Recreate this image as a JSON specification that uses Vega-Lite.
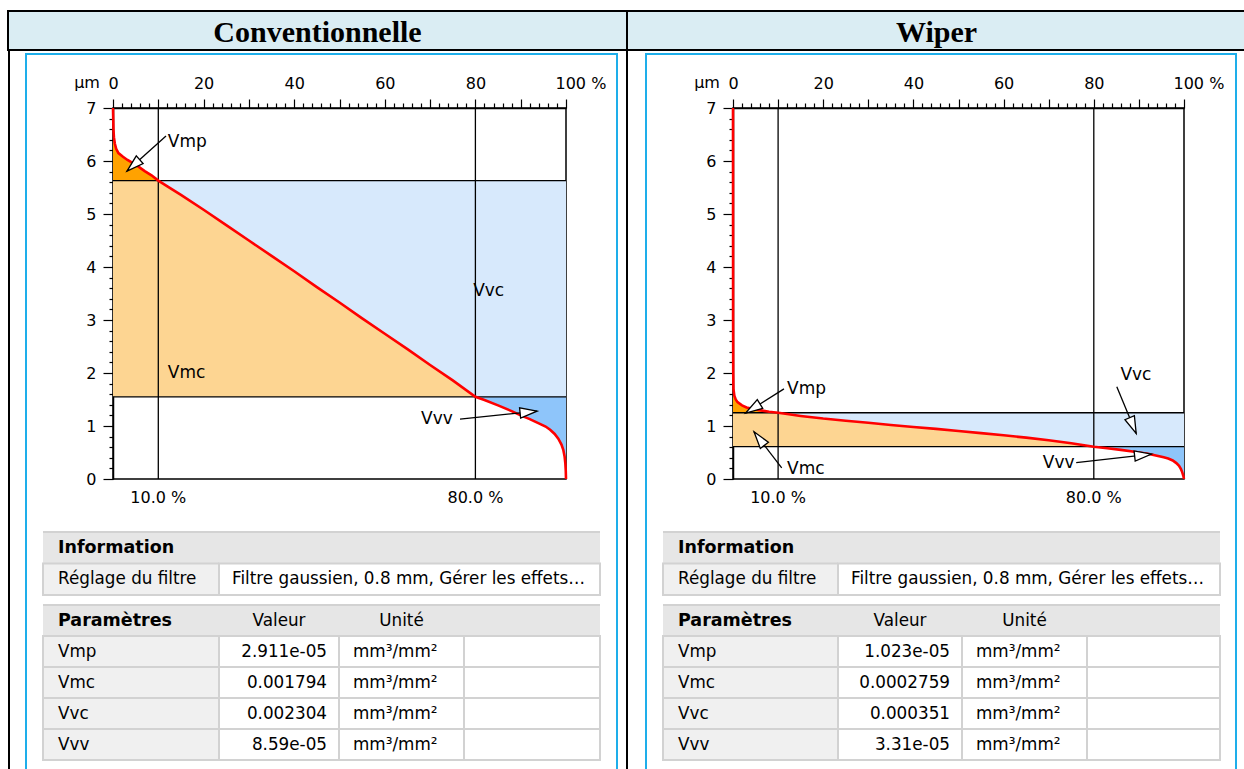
{
"$schema": "https://vega.github.io/schema/vega-lite/v6.json",
"padding": {"left": 7, "top": 10, "right": 0, "bottom": 0},
"background": "white",
"config": {
  "view": {"stroke": null},
  "font": "DejaVu Sans",
  "text": {"font": "DejaVu Sans", "fontSize": 16, "color": "black", "baseline": "middle"},
  "axis": {"labelFont": "DejaVu Sans", "labelFontSize": 16, "labelColor": "black", "domainColor": "black", "tickColor": "black", "grid": false, "labelFlush": false, "labelOverlap": false, "labelBound": false, "domainWidth": 1.5, "tickWidth": 1.2},
  "concat": {"spacing": 0}
},
"datasets": {
  "curve1": [{"x":0,"y":7},{"x":0.05,"y":6.8},{"x":0.1,"y":6.6},{"x":0.2,"y":6.45},{"x":0.4,"y":6.33},{"x":0.7,"y":6.23},{"x":1.2,"y":6.15},{"x":2.2,"y":6.08},{"x":3.2,"y":6.02},{"x":4.4,"y":5.96},{"x":5.7,"y":5.89},{"x":7,"y":5.81},{"x":8.5,"y":5.73},{"x":10,"y":5.63},{"x":12,"y":5.52},{"x":15,"y":5.36},{"x":20,"y":5.08},{"x":25,"y":4.79},{"x":30,"y":4.5},{"x":35,"y":4.21},{"x":40,"y":3.92},{"x":45,"y":3.62},{"x":50,"y":3.33},{"x":55,"y":3.03},{"x":60,"y":2.74},{"x":65,"y":2.45},{"x":70,"y":2.15},{"x":75,"y":1.86},{"x":80,"y":1.55},{"x":82,"y":1.49},{"x":85,"y":1.39},{"x":88,"y":1.28},{"x":90,"y":1.2},{"x":92,"y":1.13},{"x":94,"y":1.05},{"x":95.5,"y":0.99},{"x":96.5,"y":0.93},{"x":97.5,"y":0.85},{"x":98.3,"y":0.76},{"x":99,"y":0.65},{"x":99.4,"y":0.55},{"x":99.7,"y":0.42},{"x":99.85,"y":0.3},{"x":99.95,"y":0.15},{"x":100,"y":0}],
  "curve2": [{"x":0,"y":7},{"x":0.02,"y":3},{"x":0.05,"y":2},{"x":0.1,"y":1.7},{"x":0.3,"y":1.57},{"x":0.6,"y":1.5},{"x":1,"y":1.45},{"x":2,"y":1.39},{"x":3,"y":1.35},{"x":4.5,"y":1.32},{"x":6.5,"y":1.29},{"x":8,"y":1.27},{"x":10,"y":1.25},{"x":12,"y":1.225},{"x":15,"y":1.19},{"x":20,"y":1.14},{"x":25,"y":1.1},{"x":30,"y":1.06},{"x":35,"y":1.02},{"x":40,"y":0.98},{"x":45,"y":0.945},{"x":50,"y":0.905},{"x":55,"y":0.865},{"x":60,"y":0.825},{"x":65,"y":0.78},{"x":70,"y":0.73},{"x":75,"y":0.675},{"x":80,"y":0.61},{"x":83,"y":0.58},{"x":86,"y":0.55},{"x":89,"y":0.515},{"x":92,"y":0.475},{"x":94,"y":0.44},{"x":95.5,"y":0.41},{"x":96.5,"y":0.385},{"x":97.5,"y":0.35},{"x":98.3,"y":0.3},{"x":98.9,"y":0.25},{"x":99.3,"y":0.19},{"x":99.6,"y":0.13},{"x":99.85,"y":0.06},{"x":100,"y":0}],
  "zones1": [{"zone":"Vmc","x0":0,"x1":10,"y0":1.55,"y1":5.63},{"zone":"Vvc","x0":80,"x1":100,"y0":1.55,"y1":5.63}],
  "zones2": [{"zone":"Vmc","x0":0,"x1":10,"y0":0.61,"y1":1.25},{"zone":"Vvc","x0":80,"x1":100,"y0":0.61,"y1":1.25}],
  "lev1": [{"h":5.63},{"h":1.55}],
  "lev2": [{"h":1.25},{"h":0.61}],
  "pct": [{"v":10,"label":"10.0 %"},{"v":80,"label":"80.0 %"}],
  "unit": [{"u":"µm"}],
  "labels1": [{"t":"Vmp","x":12.1,"y":6.35},{"t":"Vmc","x":12.1,"y":2.0},{"t":"Vvc","x":79.5,"y":3.55},{"t":"Vvv","x":68.0,"y":1.13}],
  "labels2": [{"t":"Vmp","x":12.0,"y":1.7},{"t":"Vmc","x":12.0,"y":0.19},{"t":"Vvc","x":85.9,"y":1.96},{"t":"Vvv","x":68.7,"y":0.31}],
  "arrows1": [{"x":11.7,"y":6.47,"x2":3.1,"y2":5.81},{"x":76.6,"y":1.13,"x2":93.6,"y2":1.28}],
  "arrows2": [{"x":11.3,"y":1.7,"x2":2.8,"y2":1.245},{"x":10.8,"y":0.21,"x2":4.66,"y2":0.89},{"x":85.1,"y":1.74,"x2":89.4,"y2":0.86},{"x":76.1,"y":0.31,"x2":92.8,"y2":0.47}],
  "t1": [{"row":"Information","c1":"Information","c2":"","head":true},{"row":"Réglage","c1":"Réglage du filtre","c2":"Filtre gaussien, 0.8 mm, Gérer les effets…","head":false}],
  "t2L": [{"row":"Paramètres","c1":"Paramètres","c2":"Valeur","c3":"Unité","head":true},{"row":"Vmp","c1":"Vmp","c2":"2.911e-05","c3":"mm³/mm²","head":false},{"row":"Vmc","c1":"Vmc","c2":"0.001794","c3":"mm³/mm²","head":false},{"row":"Vvc","c1":"Vvc","c2":"0.002304","c3":"mm³/mm²","head":false},{"row":"Vvv","c1":"Vvv","c2":"8.59e-05","c3":"mm³/mm²","head":false}],
  "t2R": [{"row":"Paramètres","c1":"Paramètres","c2":"Valeur","c3":"Unité","head":true},{"row":"Vmp","c1":"Vmp","c2":"1.023e-05","c3":"mm³/mm²","head":false},{"row":"Vmc","c1":"Vmc","c2":"0.0002759","c3":"mm³/mm²","head":false},{"row":"Vvc","c1":"Vvc","c2":"0.000351","c3":"mm³/mm²","head":false},{"row":"Vvv","c1":"Vvv","c2":"3.31e-05","c3":"mm³/mm²","head":false}],
  "none": []
},
"spacing": 0,
"vconcat": [
 {"hconcat": [
   {"width": 619, "height": 39, "view": {"fill": "#daedf3", "stroke": "black", "strokeWidth": 2}, "data": {"values": [{"t": "Conventionnelle"}]}, "mark": {"type": "text", "font": "Liberation Serif", "fontSize": 30, "fontWeight": "bold", "align": "center", "baseline": "middle", "dy": 2}, "encoding": {"text": {"field": "t"}}},
   {"width": 619, "height": 39, "view": {"fill": "#daedf3", "stroke": "black", "strokeWidth": 2}, "data": {"values": [{"t": "Wiper"}]}, "mark": {"type": "text", "font": "Liberation Serif", "fontSize": 30, "fontWeight": "bold", "align": "center", "baseline": "middle", "dy": 2}, "encoding": {"text": {"field": "t"}}}
 ], "spacing": 0, "bounds": "flush"},
 {"hconcat": [
   {"width": 2, "height": 720, "view": {"fill": "black", "stroke": null}, "data": {"name": "none"}, "mark": {"type": "point", "size": 0, "opacity": 0}},
   {"width": 15, "height": 1, "data": {"name": "none"}, "mark": {"type": "point", "size": 0, "opacity": 0}},
   {"vconcat": [
     {"width": 593, "height": 2, "data": {"name": "none"}, "mark": {"type": "point", "size": 0, "opacity": 0}},
     {"width": 593, "height": 2, "view": {"fill": "#1eaeea", "stroke": null}, "data": {"name": "none"}, "mark": {"type": "point", "size": 0, "opacity": 0}},
     {"hconcat": [
       {"width": 2, "height": 716, "view": {"fill": "#1eaeea", "stroke": null}, "data": {"name": "none"}, "mark": {"type": "point", "size": 0, "opacity": 0}},
       {"vconcat": [
         {"width": 589, "height": 19, "data": {"name": "none"}, "mark": {"type": "point", "size": 0, "opacity": 0}},
         {"hconcat": [
           {"width": 86, "height": 1, "data": {"name": "none"}, "mark": {"type": "point", "size": 0, "opacity": 0}},
           {"width": 453, "height": 371, "view": {"stroke": "black", "strokeWidth": 1.5},
            "layer": [
             {"data": {"name": "zones1"}, "mark": {"type": "rect"},
              "encoding": {
               "x": {"field": "x0", "type": "quantitative", "scale": {"domain": [0, 100], "nice": false}, "axis": {"orient": "top", "title": null, "tickCount": 200, "values": [0,2,4,6,8,10,12,14,16,18,20,22,24,26,28,30,32,34,36,38,40,42,44,46,48,50,52,54,56,58,60,62,64,66,68,70,72,74,76,78,80,82,84,86,88,90,92,94,96,98,100], "labelExpr": "datum.value % 20 === 0 ? (datum.value === 100 ? '100 %' : '' + datum.value) : ''", "tickSize": {"condition": {"test": "datum.value % 10 === 0", "value": 9}, "value": 5}, "labelAlign": {"condition": {"test": "datum.value === 100", "value": "left"}, "value": "center"}, "labelOffset": {"condition": {"test": "datum.value === 100", "value": -11}, "value": 0}, "labelPadding": 8, "labelOverlap": false, "labelFlush": false, "labelBound": false}},
               "x2": {"field": "x1"},
               "y": {"field": "y0", "type": "quantitative", "scale": {"domain": [0, 7], "nice": false}, "axis": {"orient": "left", "title": null, "tickCount": 200, "values": [0,0.2,0.4,0.6,0.8,1,1.2,1.4,1.6,1.8,2,2.2,2.4,2.6,2.8,3,3.2,3.4,3.6,3.8,4,4.2,4.4,4.6,4.8,5,5.2,5.4,5.6,5.8,6,6.2,6.4,6.6,6.8,7], "labelExpr": "datum.value % 1 === 0 ? '' + datum.value : ''", "tickSize": {"condition": {"test": "datum.value % 1 === 0", "value": 10}, "value": 4}, "labelPadding": 7, "labelOverlap": false, "labelFlush": false, "labelBound": false}},
               "y2": {"field": "y1"},
               "color": {"field": "zone", "type": "nominal", "scale": {"domain": ["Vmc", "Vvc"], "range": ["#fdd592", "#d7e9fc"]}, "legend": null}}},
             {"data": {"name": "curve1"}, "transform": [{"filter": "datum.x <= 10"}], "mark": {"type": "area", "color": "#ffa200"}, "encoding": {"x": {"field": "x", "type": "quantitative", "title": null}, "y": {"field": "y", "type": "quantitative", "title": null}, "y2": {"datum": 5.63}}},
             {"data": {"name": "curve1"}, "transform": [{"filter": "datum.x >= 10 && datum.x <= 80"}], "mark": {"type": "area", "color": "#fdd592"}, "encoding": {"x": {"field": "x", "type": "quantitative", "title": null}, "y": {"field": "y", "type": "quantitative", "title": null}, "y2": {"datum": 1.55}}},
             {"data": {"name": "curve1"}, "transform": [{"filter": "datum.x >= 10 && datum.x <= 80"}], "mark": {"type": "area", "color": "#d7e9fc"}, "encoding": {"x": {"field": "x", "type": "quantitative", "title": null}, "y": {"field": "y", "type": "quantitative", "title": null}, "y2": {"datum": 5.63}}},
             {"data": {"name": "curve1"}, "transform": [{"filter": "datum.x >= 80"}], "mark": {"type": "area", "color": "#8ec5fa"}, "encoding": {"x": {"field": "x", "type": "quantitative", "title": null}, "y": {"field": "y", "type": "quantitative", "title": null}, "y2": {"datum": 1.55}}},
             {"data": {"name": "lev1"}, "mark": {"type": "rule", "color": "black", "strokeWidth": 1.3}, "encoding": {"y": {"field": "h", "type": "quantitative", "title": null}}},
             {"data": {"name": "pct"}, "mark": {"type": "rule", "color": "black", "strokeWidth": 1.3}, "encoding": {"x": {"field": "v", "type": "quantitative", "title": null}}},
             {"data": {"name": "curve1"}, "mark": {"type": "line", "color": "#ff0000", "strokeWidth": 2.6}, "encoding": {"x": {"field": "x", "type": "quantitative", "title": null}, "y": {"field": "y", "type": "quantitative", "title": null}, "order": {"value": null}}},
             {"data": {"name": "arrows1"}, "mark": {"type": "rule", "color": "black", "strokeWidth": 1.3}, "encoding": {"x": {"field": "x", "type": "quantitative", "title": null}, "y": {"field": "y", "type": "quantitative", "title": null}, "x2": {"field": "x2"}, "y2": {"field": "y2"}}},
             {"data": {"name": "arrows1"}, "transform": [{"calculate": "atan2((datum.x2 - datum.x) * 4.53, (datum.y2 - datum.y) * 53) * 180 / PI", "as": "angle"}], "mark": {"type": "point", "shape": "M0,0L-0.3,1L0.3,1Z", "size": 1156, "filled": true, "fill": "white", "stroke": "black", "strokeWidth": 1.3, "opacity": 1}, "encoding": {"x": {"field": "x2", "type": "quantitative", "title": null}, "y": {"field": "y2", "type": "quantitative", "title": null}, "angle": {"field": "angle", "type": "quantitative", "scale": null}}},
             {"data": {"name": "labels1"}, "mark": {"type": "text", "align": "left", "baseline": "middle", "fontSize": 17}, "encoding": {"x": {"field": "x", "type": "quantitative", "title": null}, "y": {"field": "y", "type": "quantitative", "title": null}, "text": {"field": "t"}}},
             {"data": {"name": "pct"}, "mark": {"type": "text", "baseline": "middle", "dy": 19, "fontSize": 16}, "encoding": {"x": {"field": "v", "type": "quantitative", "title": null}, "y": {"datum": 0}, "text": {"field": "label"}}},
             {"data": {"name": "unit"}, "mark": {"type": "text", "align": "center", "baseline": "middle", "dx": -26, "dy": -25, "fontSize": 16}, "encoding": {"x": {"datum": 0}, "y": {"datum": 7}, "text": {"field": "u"}}}
            ]}
         ], "spacing": 0, "bounds": "flush"},
         {"width": 589, "height": 24, "data": {"name": "none"}, "mark": {"type": "point", "size": 0, "opacity": 0}},
         {"hconcat": [
           {"width": 16, "height": 1, "data": {"name": "none"}, "mark": {"type": "point", "size": 0, "opacity": 0}},
           {"width": 176, "height": 63, "data": {"name": "t1"}, "encoding": {"y": {"field": "row", "type": "nominal", "scale": {"domain": ["Information", "Réglage"], "paddingInner": 0, "paddingOuter": 0}, "axis": null}},
            "layer": [
             {"mark": {"type": "rect", "strokeWidth": 2}, "encoding": {"fill": {"condition": {"test": "datum.head", "value": "#e6e6e6"}, "value": "#f0f0f0"}, "stroke": {"condition": {"test": "datum.head", "value": "transparent"}, "value": "#d2d2d2"}}},
             {"transform": [{"filter": "datum.head"}], "mark": {"type": "rule", "color": "#d2d2d2", "strokeWidth": 2}, "encoding": {"y": {"field": "row", "type": "nominal", "bandPosition": 0}}},
             {"transform": [{"filter": "datum.head"}], "mark": {"type": "text", "align": "left", "dx": 15, "fontSize": 17.5, "fontWeight": "bold"}, "encoding": {"x": {"datum": 0, "scale": {"domain": [0, 1]}, "axis": null}, "text": {"field": "c1"}}},
             {"transform": [{"filter": "!datum.head"}], "mark": {"type": "text", "align": "left", "dx": 15, "fontSize": 16.8}, "encoding": {"x": {"datum": 0, "scale": {"domain": [0, 1]}, "axis": null}, "text": {"field": "c1"}}}
            ]},
           {"width": 381, "height": 63, "data": {"name": "t1"}, "encoding": {"y": {"field": "row", "type": "nominal", "scale": {"domain": ["Information", "Réglage"], "paddingInner": 0, "paddingOuter": 0}, "axis": null}},
            "layer": [
             {"mark": {"type": "rect", "strokeWidth": 2}, "encoding": {"fill": {"condition": {"test": "datum.head", "value": "#e6e6e6"}, "value": "white"}, "stroke": {"condition": {"test": "datum.head", "value": "transparent"}, "value": "#d2d2d2"}}},
             {"transform": [{"filter": "datum.head"}], "mark": {"type": "rule", "color": "#d2d2d2", "strokeWidth": 2}, "encoding": {"y": {"field": "row", "type": "nominal", "bandPosition": 0}}},
             {"transform": [{"filter": "!datum.head"}], "mark": {"type": "text", "align": "left", "dx": 13, "fontSize": 16.8}, "encoding": {"x": {"datum": 0, "scale": {"domain": [0, 1]}, "axis": null}, "text": {"field": "c2"}}}
            ]}
         ], "spacing": 0, "bounds": "flush"},
         {"width": 589, "height": 8, "data": {"name": "none"}, "mark": {"type": "point", "size": 0, "opacity": 0}},
         {"hconcat": [
           {"width": 16, "height": 1, "data": {"name": "none"}, "mark": {"type": "point", "size": 0, "opacity": 0}},
           {"width": 176, "height": 155, "data": {"name": "t2L"}, "encoding": {"y": {"field": "row", "type": "nominal", "scale": {"domain": ["Paramètres", "Vmp", "Vmc", "Vvc", "Vvv"], "paddingInner": 0, "paddingOuter": 0}, "axis": null}},
            "layer": [
             {"mark": {"type": "rect", "strokeWidth": 2}, "encoding": {"fill": {"condition": {"test": "datum.head", "value": "#e6e6e6"}, "value": "#f0f0f0"}, "stroke": {"condition": {"test": "datum.head", "value": "transparent"}, "value": "#d2d2d2"}}},
             {"transform": [{"filter": "datum.head"}], "mark": {"type": "rule", "color": "#d2d2d2", "strokeWidth": 2}, "encoding": {"y": {"field": "row", "type": "nominal", "bandPosition": 0}}},
             {"transform": [{"filter": "datum.head"}], "mark": {"type": "text", "align": "left", "dx": 15, "fontSize": 17.5, "fontWeight": "bold"}, "encoding": {"x": {"datum": 0, "scale": {"domain": [0, 1]}, "axis": null}, "text": {"field": "c1"}}},
             {"transform": [{"filter": "!datum.head"}], "mark": {"type": "text", "align": "left", "dx": 15, "fontSize": 16.8}, "encoding": {"x": {"datum": 0, "scale": {"domain": [0, 1]}, "axis": null}, "text": {"field": "c1"}}}
            ]},
           {"width": 120, "height": 155, "data": {"name": "t2L"}, "encoding": {"y": {"field": "row", "type": "nominal", "scale": {"domain": ["Paramètres", "Vmp", "Vmc", "Vvc", "Vvv"], "paddingInner": 0, "paddingOuter": 0}, "axis": null}},
            "layer": [
             {"mark": {"type": "rect", "strokeWidth": 2}, "encoding": {"fill": {"condition": {"test": "datum.head", "value": "#e6e6e6"}, "value": "white"}, "stroke": {"condition": {"test": "datum.head", "value": "transparent"}, "value": "#d2d2d2"}}},
             {"transform": [{"filter": "datum.head"}], "mark": {"type": "rule", "color": "#d2d2d2", "strokeWidth": 2}, "encoding": {"y": {"field": "row", "type": "nominal", "bandPosition": 0}}},
             {"transform": [{"filter": "datum.head"}], "mark": {"type": "text", "align": "center", "fontSize": 16.8}, "encoding": {"x": {"datum": 0.5, "scale": {"domain": [0, 1]}, "axis": null}, "text": {"field": "c2"}}},
             {"transform": [{"filter": "!datum.head"}], "mark": {"type": "text", "align": "right", "dx": -12, "fontSize": 16.8}, "encoding": {"x": {"datum": 1, "scale": {"domain": [0, 1]}, "axis": null}, "text": {"field": "c2"}}}
            ]},
           {"width": 125, "height": 155, "data": {"name": "t2L"}, "encoding": {"y": {"field": "row", "type": "nominal", "scale": {"domain": ["Paramètres", "Vmp", "Vmc", "Vvc", "Vvv"], "paddingInner": 0, "paddingOuter": 0}, "axis": null}},
            "layer": [
             {"mark": {"type": "rect", "strokeWidth": 2}, "encoding": {"fill": {"condition": {"test": "datum.head", "value": "#e6e6e6"}, "value": "white"}, "stroke": {"condition": {"test": "datum.head", "value": "transparent"}, "value": "#d2d2d2"}}},
             {"transform": [{"filter": "datum.head"}], "mark": {"type": "rule", "color": "#d2d2d2", "strokeWidth": 2}, "encoding": {"y": {"field": "row", "type": "nominal", "bandPosition": 0}}},
             {"transform": [{"filter": "datum.head"}], "mark": {"type": "text", "align": "center", "fontSize": 16.8}, "encoding": {"x": {"datum": 0.5, "scale": {"domain": [0, 1]}, "axis": null}, "text": {"field": "c3"}}},
             {"transform": [{"filter": "!datum.head"}], "mark": {"type": "text", "align": "left", "dx": 14, "fontSize": 16.8}, "encoding": {"x": {"datum": 0, "scale": {"domain": [0, 1]}, "axis": null}, "text": {"field": "c3"}}}
            ]},
           {"width": 136, "height": 155, "data": {"name": "t2L"}, "encoding": {"y": {"field": "row", "type": "nominal", "scale": {"domain": ["Paramètres", "Vmp", "Vmc", "Vvc", "Vvv"], "paddingInner": 0, "paddingOuter": 0}, "axis": null}},
            "layer": [
             {"mark": {"type": "rect", "strokeWidth": 2}, "encoding": {"fill": {"condition": {"test": "datum.head", "value": "#e6e6e6"}, "value": "white"}, "stroke": {"condition": {"test": "datum.head", "value": "transparent"}, "value": "#d2d2d2"}}},
             {"transform": [{"filter": "datum.head"}], "mark": {"type": "rule", "color": "#d2d2d2", "strokeWidth": 2}, "encoding": {"y": {"field": "row", "type": "nominal", "bandPosition": 0}}}
            ]}
         ], "spacing": 0, "bounds": "flush"},
         {"width": 589, "height": 12, "data": {"name": "none"}, "mark": {"type": "point", "size": 0, "opacity": 0}}
       ], "spacing": 0},
       {"width": 2, "height": 716, "view": {"fill": "#1eaeea", "stroke": null}, "data": {"name": "none"}, "mark": {"type": "point", "size": 0, "opacity": 0}}
     ], "spacing": 0}
   ], "spacing": 0},
   {"width": 8, "height": 1, "data": {"name": "none"}, "mark": {"type": "point", "size": 0, "opacity": 0}},
   {"width": 2, "height": 720, "view": {"fill": "black", "stroke": null}, "data": {"name": "none"}, "mark": {"type": "point", "size": 0, "opacity": 0}},
   {"width": 17, "height": 1, "data": {"name": "none"}, "mark": {"type": "point", "size": 0, "opacity": 0}},
   {"vconcat": [
     {"width": 592, "height": 2, "data": {"name": "none"}, "mark": {"type": "point", "size": 0, "opacity": 0}},
     {"width": 592, "height": 2, "view": {"fill": "#1eaeea", "stroke": null}, "data": {"name": "none"}, "mark": {"type": "point", "size": 0, "opacity": 0}},
     {"hconcat": [
       {"width": 2, "height": 716, "view": {"fill": "#1eaeea", "stroke": null}, "data": {"name": "none"}, "mark": {"type": "point", "size": 0, "opacity": 0}},
       {"vconcat": [
         {"width": 588, "height": 19, "data": {"name": "none"}, "mark": {"type": "point", "size": 0, "opacity": 0}},
         {"hconcat": [
           {"width": 86, "height": 1, "data": {"name": "none"}, "mark": {"type": "point", "size": 0, "opacity": 0}},
           {"width": 451, "height": 371, "view": {"stroke": "black", "strokeWidth": 1.5},
            "layer": [
             {"data": {"name": "zones2"}, "mark": {"type": "rect"},
              "encoding": {
               "x": {"field": "x0", "type": "quantitative", "scale": {"domain": [0, 100], "nice": false}, "axis": {"orient": "top", "title": null, "tickCount": 200, "values": [0,2,4,6,8,10,12,14,16,18,20,22,24,26,28,30,32,34,36,38,40,42,44,46,48,50,52,54,56,58,60,62,64,66,68,70,72,74,76,78,80,82,84,86,88,90,92,94,96,98,100], "labelExpr": "datum.value % 20 === 0 ? (datum.value === 100 ? '100 %' : '' + datum.value) : ''", "tickSize": {"condition": {"test": "datum.value % 10 === 0", "value": 9}, "value": 5}, "labelAlign": {"condition": {"test": "datum.value === 100", "value": "left"}, "value": "center"}, "labelOffset": {"condition": {"test": "datum.value === 100", "value": -11}, "value": 0}, "labelPadding": 8, "labelOverlap": false, "labelFlush": false, "labelBound": false}},
               "x2": {"field": "x1"},
               "y": {"field": "y0", "type": "quantitative", "scale": {"domain": [0, 7], "nice": false}, "axis": {"orient": "left", "title": null, "tickCount": 200, "values": [0,0.2,0.4,0.6,0.8,1,1.2,1.4,1.6,1.8,2,2.2,2.4,2.6,2.8,3,3.2,3.4,3.6,3.8,4,4.2,4.4,4.6,4.8,5,5.2,5.4,5.6,5.8,6,6.2,6.4,6.6,6.8,7], "labelExpr": "datum.value % 1 === 0 ? '' + datum.value : ''", "tickSize": {"condition": {"test": "datum.value % 1 === 0", "value": 10}, "value": 4}, "labelPadding": 7, "labelOverlap": false, "labelFlush": false, "labelBound": false}},
               "y2": {"field": "y1"},
               "color": {"field": "zone", "type": "nominal", "scale": {"domain": ["Vmc", "Vvc"], "range": ["#fdd592", "#d7e9fc"]}, "legend": null}}},
             {"data": {"name": "curve2"}, "transform": [{"filter": "datum.x <= 10"}], "mark": {"type": "area", "color": "#ffa200"}, "encoding": {"x": {"field": "x", "type": "quantitative", "title": null}, "y": {"field": "y", "type": "quantitative", "title": null}, "y2": {"datum": 1.25}}},
             {"data": {"name": "curve2"}, "transform": [{"filter": "datum.x >= 10 && datum.x <= 80"}], "mark": {"type": "area", "color": "#fdd592"}, "encoding": {"x": {"field": "x", "type": "quantitative", "title": null}, "y": {"field": "y", "type": "quantitative", "title": null}, "y2": {"datum": 0.61}}},
             {"data": {"name": "curve2"}, "transform": [{"filter": "datum.x >= 10 && datum.x <= 80"}], "mark": {"type": "area", "color": "#d7e9fc"}, "encoding": {"x": {"field": "x", "type": "quantitative", "title": null}, "y": {"field": "y", "type": "quantitative", "title": null}, "y2": {"datum": 1.25}}},
             {"data": {"name": "curve2"}, "transform": [{"filter": "datum.x >= 80"}], "mark": {"type": "area", "color": "#8ec5fa"}, "encoding": {"x": {"field": "x", "type": "quantitative", "title": null}, "y": {"field": "y", "type": "quantitative", "title": null}, "y2": {"datum": 0.61}}},
             {"data": {"name": "lev2"}, "mark": {"type": "rule", "color": "black", "strokeWidth": 1.3}, "encoding": {"y": {"field": "h", "type": "quantitative", "title": null}}},
             {"data": {"name": "pct"}, "mark": {"type": "rule", "color": "black", "strokeWidth": 1.3}, "encoding": {"x": {"field": "v", "type": "quantitative", "title": null}}},
             {"data": {"name": "curve2"}, "mark": {"type": "line", "color": "#ff0000", "strokeWidth": 2.6}, "encoding": {"x": {"field": "x", "type": "quantitative", "title": null}, "y": {"field": "y", "type": "quantitative", "title": null}, "order": {"value": null}}},
             {"data": {"name": "arrows2"}, "mark": {"type": "rule", "color": "black", "strokeWidth": 1.3}, "encoding": {"x": {"field": "x", "type": "quantitative", "title": null}, "y": {"field": "y", "type": "quantitative", "title": null}, "x2": {"field": "x2"}, "y2": {"field": "y2"}}},
             {"data": {"name": "arrows2"}, "transform": [{"calculate": "atan2((datum.x2 - datum.x) * 4.51, (datum.y2 - datum.y) * 53) * 180 / PI", "as": "angle"}], "mark": {"type": "point", "shape": "M0,0L-0.3,1L0.3,1Z", "size": 1156, "filled": true, "fill": "white", "stroke": "black", "strokeWidth": 1.3, "opacity": 1}, "encoding": {"x": {"field": "x2", "type": "quantitative", "title": null}, "y": {"field": "y2", "type": "quantitative", "title": null}, "angle": {"field": "angle", "type": "quantitative", "scale": null}}},
             {"data": {"name": "labels2"}, "mark": {"type": "text", "align": "left", "baseline": "middle", "fontSize": 17}, "encoding": {"x": {"field": "x", "type": "quantitative", "title": null}, "y": {"field": "y", "type": "quantitative", "title": null}, "text": {"field": "t"}}},
             {"data": {"name": "pct"}, "mark": {"type": "text", "baseline": "middle", "dy": 19, "fontSize": 16}, "encoding": {"x": {"field": "v", "type": "quantitative", "title": null}, "y": {"datum": 0}, "text": {"field": "label"}}},
             {"data": {"name": "unit"}, "mark": {"type": "text", "align": "center", "baseline": "middle", "dx": -26, "dy": -25, "fontSize": 16}, "encoding": {"x": {"datum": 0}, "y": {"datum": 7}, "text": {"field": "u"}}}
            ]}
         ], "spacing": 0, "bounds": "flush"},
         {"width": 588, "height": 24, "data": {"name": "none"}, "mark": {"type": "point", "size": 0, "opacity": 0}},
         {"hconcat": [
           {"width": 16, "height": 1, "data": {"name": "none"}, "mark": {"type": "point", "size": 0, "opacity": 0}},
           {"width": 175, "height": 63, "data": {"name": "t1"}, "encoding": {"y": {"field": "row", "type": "nominal", "scale": {"domain": ["Information", "Réglage"], "paddingInner": 0, "paddingOuter": 0}, "axis": null}},
            "layer": [
             {"mark": {"type": "rect", "strokeWidth": 2}, "encoding": {"fill": {"condition": {"test": "datum.head", "value": "#e6e6e6"}, "value": "#f0f0f0"}, "stroke": {"condition": {"test": "datum.head", "value": "transparent"}, "value": "#d2d2d2"}}},
             {"transform": [{"filter": "datum.head"}], "mark": {"type": "rule", "color": "#d2d2d2", "strokeWidth": 2}, "encoding": {"y": {"field": "row", "type": "nominal", "bandPosition": 0}}},
             {"transform": [{"filter": "datum.head"}], "mark": {"type": "text", "align": "left", "dx": 15, "fontSize": 17.5, "fontWeight": "bold"}, "encoding": {"x": {"datum": 0, "scale": {"domain": [0, 1]}, "axis": null}, "text": {"field": "c1"}}},
             {"transform": [{"filter": "!datum.head"}], "mark": {"type": "text", "align": "left", "dx": 15, "fontSize": 16.8}, "encoding": {"x": {"datum": 0, "scale": {"domain": [0, 1]}, "axis": null}, "text": {"field": "c1"}}}
            ]},
           {"width": 382, "height": 63, "data": {"name": "t1"}, "encoding": {"y": {"field": "row", "type": "nominal", "scale": {"domain": ["Information", "Réglage"], "paddingInner": 0, "paddingOuter": 0}, "axis": null}},
            "layer": [
             {"mark": {"type": "rect", "strokeWidth": 2}, "encoding": {"fill": {"condition": {"test": "datum.head", "value": "#e6e6e6"}, "value": "white"}, "stroke": {"condition": {"test": "datum.head", "value": "transparent"}, "value": "#d2d2d2"}}},
             {"transform": [{"filter": "datum.head"}], "mark": {"type": "rule", "color": "#d2d2d2", "strokeWidth": 2}, "encoding": {"y": {"field": "row", "type": "nominal", "bandPosition": 0}}},
             {"transform": [{"filter": "!datum.head"}], "mark": {"type": "text", "align": "left", "dx": 13, "fontSize": 16.8}, "encoding": {"x": {"datum": 0, "scale": {"domain": [0, 1]}, "axis": null}, "text": {"field": "c2"}}}
            ]}
         ], "spacing": 0, "bounds": "flush"},
         {"width": 588, "height": 8, "data": {"name": "none"}, "mark": {"type": "point", "size": 0, "opacity": 0}},
         {"hconcat": [
           {"width": 16, "height": 1, "data": {"name": "none"}, "mark": {"type": "point", "size": 0, "opacity": 0}},
           {"width": 175, "height": 155, "data": {"name": "t2R"}, "encoding": {"y": {"field": "row", "type": "nominal", "scale": {"domain": ["Paramètres", "Vmp", "Vmc", "Vvc", "Vvv"], "paddingInner": 0, "paddingOuter": 0}, "axis": null}},
            "layer": [
             {"mark": {"type": "rect", "strokeWidth": 2}, "encoding": {"fill": {"condition": {"test": "datum.head", "value": "#e6e6e6"}, "value": "#f0f0f0"}, "stroke": {"condition": {"test": "datum.head", "value": "transparent"}, "value": "#d2d2d2"}}},
             {"transform": [{"filter": "datum.head"}], "mark": {"type": "rule", "color": "#d2d2d2", "strokeWidth": 2}, "encoding": {"y": {"field": "row", "type": "nominal", "bandPosition": 0}}},
             {"transform": [{"filter": "datum.head"}], "mark": {"type": "text", "align": "left", "dx": 15, "fontSize": 17.5, "fontWeight": "bold"}, "encoding": {"x": {"datum": 0, "scale": {"domain": [0, 1]}, "axis": null}, "text": {"field": "c1"}}},
             {"transform": [{"filter": "!datum.head"}], "mark": {"type": "text", "align": "left", "dx": 15, "fontSize": 16.8}, "encoding": {"x": {"datum": 0, "scale": {"domain": [0, 1]}, "axis": null}, "text": {"field": "c1"}}}
            ]},
           {"width": 124, "height": 155, "data": {"name": "t2R"}, "encoding": {"y": {"field": "row", "type": "nominal", "scale": {"domain": ["Paramètres", "Vmp", "Vmc", "Vvc", "Vvv"], "paddingInner": 0, "paddingOuter": 0}, "axis": null}},
            "layer": [
             {"mark": {"type": "rect", "strokeWidth": 2}, "encoding": {"fill": {"condition": {"test": "datum.head", "value": "#e6e6e6"}, "value": "white"}, "stroke": {"condition": {"test": "datum.head", "value": "transparent"}, "value": "#d2d2d2"}}},
             {"transform": [{"filter": "datum.head"}], "mark": {"type": "rule", "color": "#d2d2d2", "strokeWidth": 2}, "encoding": {"y": {"field": "row", "type": "nominal", "bandPosition": 0}}},
             {"transform": [{"filter": "datum.head"}], "mark": {"type": "text", "align": "center", "fontSize": 16.8}, "encoding": {"x": {"datum": 0.5, "scale": {"domain": [0, 1]}, "axis": null}, "text": {"field": "c2"}}},
             {"transform": [{"filter": "!datum.head"}], "mark": {"type": "text", "align": "right", "dx": -12, "fontSize": 16.8}, "encoding": {"x": {"datum": 1, "scale": {"domain": [0, 1]}, "axis": null}, "text": {"field": "c2"}}}
            ]},
           {"width": 125, "height": 155, "data": {"name": "t2R"}, "encoding": {"y": {"field": "row", "type": "nominal", "scale": {"domain": ["Paramètres", "Vmp", "Vmc", "Vvc", "Vvv"], "paddingInner": 0, "paddingOuter": 0}, "axis": null}},
            "layer": [
             {"mark": {"type": "rect", "strokeWidth": 2}, "encoding": {"fill": {"condition": {"test": "datum.head", "value": "#e6e6e6"}, "value": "white"}, "stroke": {"condition": {"test": "datum.head", "value": "transparent"}, "value": "#d2d2d2"}}},
             {"transform": [{"filter": "datum.head"}], "mark": {"type": "rule", "color": "#d2d2d2", "strokeWidth": 2}, "encoding": {"y": {"field": "row", "type": "nominal", "bandPosition": 0}}},
             {"transform": [{"filter": "datum.head"}], "mark": {"type": "text", "align": "center", "fontSize": 16.8}, "encoding": {"x": {"datum": 0.5, "scale": {"domain": [0, 1]}, "axis": null}, "text": {"field": "c3"}}},
             {"transform": [{"filter": "!datum.head"}], "mark": {"type": "text", "align": "left", "dx": 14, "fontSize": 16.8}, "encoding": {"x": {"datum": 0, "scale": {"domain": [0, 1]}, "axis": null}, "text": {"field": "c3"}}}
            ]},
           {"width": 133, "height": 155, "data": {"name": "t2R"}, "encoding": {"y": {"field": "row", "type": "nominal", "scale": {"domain": ["Paramètres", "Vmp", "Vmc", "Vvc", "Vvv"], "paddingInner": 0, "paddingOuter": 0}, "axis": null}},
            "layer": [
             {"mark": {"type": "rect", "strokeWidth": 2}, "encoding": {"fill": {"condition": {"test": "datum.head", "value": "#e6e6e6"}, "value": "white"}, "stroke": {"condition": {"test": "datum.head", "value": "transparent"}, "value": "#d2d2d2"}}},
             {"transform": [{"filter": "datum.head"}], "mark": {"type": "rule", "color": "#d2d2d2", "strokeWidth": 2}, "encoding": {"y": {"field": "row", "type": "nominal", "bandPosition": 0}}}
            ]}
         ], "spacing": 0, "bounds": "flush"},
         {"width": 588, "height": 12, "data": {"name": "none"}, "mark": {"type": "point", "size": 0, "opacity": 0}}
       ], "spacing": 0},
       {"width": 2, "height": 716, "view": {"fill": "#1eaeea", "stroke": null}, "data": {"name": "none"}, "mark": {"type": "point", "size": 0, "opacity": 0}}
     ], "spacing": 0}
   ], "spacing": 0}
 ], "spacing": 0}
]
}
